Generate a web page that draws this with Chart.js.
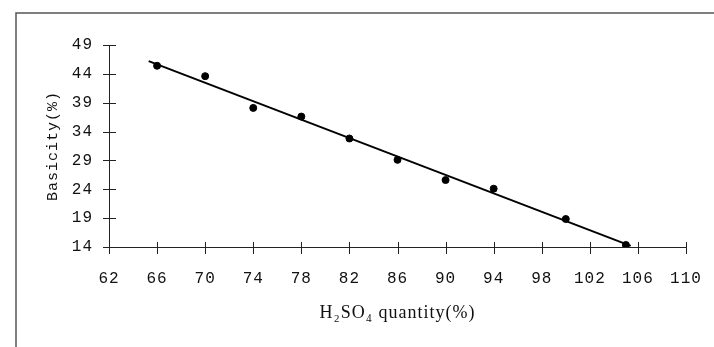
<!DOCTYPE html>
<html>
<head>
<meta charset="utf-8">
<script src="https://cdn.jsdelivr.net/npm/chart.js@4"></script>
<style>
  html, body { margin: 0; padding: 0; background: #fff; }
  #wrap { width: 714px; height: 347px; }
</style>
</head>
<body>
<div id="wrap"><canvas id="chart"></canvas></div>
<script>
// measured points
const acidQty  = [66, 70, 74, 78, 82, 86, 90, 94, 100, 105];
const basicity = [45.4, 43.6, 38.1, 36.6, 32.8, 29.1, 25.6, 24.1, 18.85, 14.35];

// fitted line, end points
const fitX = [65.3, 105.4];
const fitY = [46.2, 14.2];

const xTitle = 'H\u2082SO\u2084 quantity(%)';
const yTitle = 'Basicity(%)';

const MONO = '"Liberation Mono", "Courier New", monospace';
const SERIF = '"Liberation Serif", "Times New Roman", serif';

// ticks crossing the axes + scan frame
const axisDecor = {
  id: 'axisDecor',
  beforeDraw(chart) {
    chart.ctx.letterSpacing = '1px';
  },
  afterDraw(chart) {
    const ctx = chart.ctx;
    const xs = chart.scales.x, ys = chart.scales.y;
    const area = chart.chartArea;
    ctx.save();
    ctx.letterSpacing = '0px';
    ctx.strokeStyle = '#222';
    ctx.lineWidth = 1;
    xs.ticks.forEach(t => {
      const px = Math.round(xs.getPixelForValue(t.value)) + 0.5;
      ctx.beginPath();
      ctx.moveTo(px, area.bottom - 5);
      ctx.lineTo(px, area.bottom + 7);
      ctx.stroke();
    });
    ys.ticks.forEach(t => {
      const py = Math.round(ys.getPixelForValue(t.value)) + 0.5;
      ctx.beginPath();
      ctx.moveTo(area.left - 6, py);
      ctx.lineTo(area.left + 7, py);
      ctx.stroke();
    });
    // frame of the scanned figure
    ctx.strokeStyle = '#555';
    ctx.lineWidth = 1.5;
    ctx.beginPath();
    ctx.moveTo(16, 347);
    ctx.lineTo(16, 13);
    ctx.lineTo(714, 13);
    ctx.stroke();
    ctx.restore();
  }
};

new Chart(document.getElementById('chart'), {
  type: 'scatter',
  data: {
    datasets: [
      {
        label: 'fit',
        data: fitX.map((x, i) => ({ x, y: fitY[i] })),
        showLine: true,
        borderColor: '#000',
        borderWidth: 2,
        pointRadius: 0
      },
      {
        label: 'measured',
        data: acidQty.map((x, i) => ({ x, y: basicity[i] })),
        backgroundColor: '#000',
        borderColor: '#000',
        pointRadius: 3.5
      }
    ]
  },
  options: {
    responsive: true,
    maintainAspectRatio: false,
    animation: false,
    layout: { padding: { left: 0, top: 45, right: 28, bottom: 0 } },
    plugins: {
      legend: { display: false },
      tooltip: { enabled: false }
    },
    scales: {
      x: {
        type: 'linear',
        min: 62,
        max: 110,
        afterFit: s => {
          s.height = 100;
          s.paddingLeft = 0;
          s.paddingRight = 0;
        },
        grid: { display: false, drawTicks: false },
        border: { display: true, color: '#222', width: 1 },
        ticks: {
          stepSize: 4,
          padding: 22,
          color: '#111',
          font: { family: MONO, size: 16 }
        },
        title: {
          display: true,
          text: xTitle,
          color: '#111',
          font: { family: SERIF, size: 18 },
          padding: { top: 0, bottom: 23 }
        }
      },
      y: {
        type: 'linear',
        min: 14,
        max: 49,
        afterFit: s => {
          s.width = 109;
          s.paddingTop = 0;
          s.paddingBottom = 0;
        },
        grid: { display: false, drawTicks: false },
        border: { display: true, color: '#222', width: 1 },
        ticks: {
          stepSize: 5,
          padding: 16,
          color: '#111',
          font: { family: MONO, size: 16 }
        },
        title: {
          display: true,
          text: yTitle,
          color: '#111',
          font: { family: MONO, size: 15 },
          padding: { top: 44, bottom: 0 }
        }
      }
    }
  },
  plugins: [axisDecor]
});
</script>
</body>
</html>
